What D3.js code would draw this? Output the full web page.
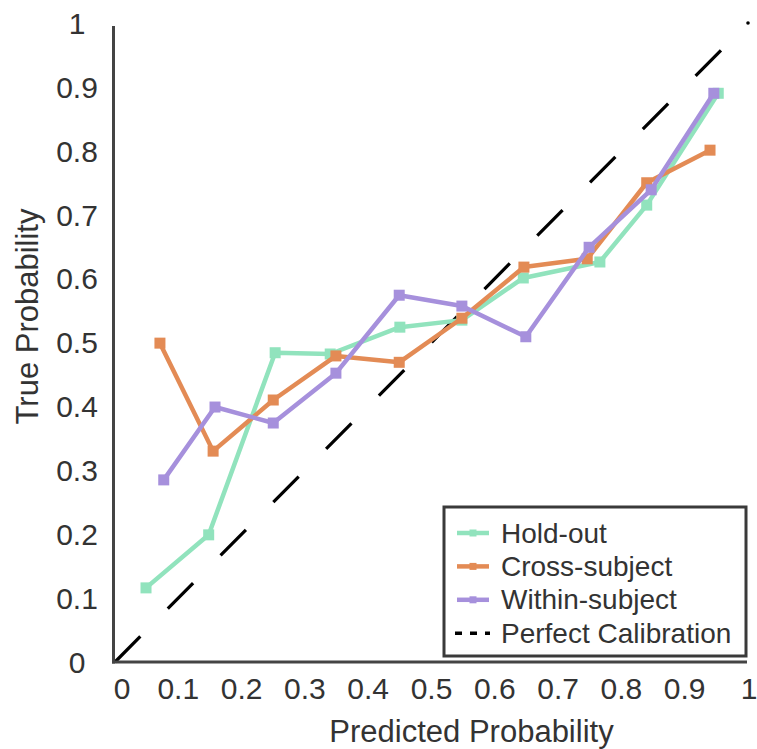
<!DOCTYPE html>
<html><head><meta charset="utf-8">
<script src="https://cdn.jsdelivr.net/npm/d3@7"></script>
<style>html,body{margin:0;padding:0;background:#fff;}</style>
</head><body>
<svg id="chart" width="757" height="749"></svg>
<script>
const tickValues = [0,0.1,0.2,0.3,0.4,0.5,0.6,0.7,0.8,0.9,1];
const tickLabels = ["0","0.1","0.2","0.3","0.4","0.5","0.6","0.7","0.8","0.9","1"];
const seriesNames = ["Hold-out","Cross-subject","Within-subject"];
const holdoutX = [0.049,0.148,0.253,0.340,0.450,0.548,0.645,0.766,0.840,0.953];
const holdoutY = [0.116,0.199,0.484,0.482,0.524,0.535,0.601,0.626,0.715,0.890];
const crossX   = [0.071,0.155,0.250,0.349,0.449,0.548,0.646,0.746,0.840,0.940];
const crossY   = [0.499,0.330,0.410,0.479,0.469,0.538,0.618,0.631,0.750,0.801];
const withinX  = [0.077,0.158,0.250,0.349,0.449,0.548,0.649,0.749,0.847,0.946];
const withinY  = [0.285,0.399,0.374,0.452,0.574,0.557,0.509,0.649,0.739,0.890];
const perfect  = [0,1];
const colors = ["#91e3bd","#e38b55","#a690dc"];

const svg = d3.select("#chart");
const x = d3.scaleLinear().domain([0,1]).range([115,748]);
const y = d3.scaleLinear().domain([0,1]).range([662,23]);
const font = "'Liberation Sans', Arial, sans-serif";
const textColor = "#333";
const spine = "#444";

// perfect calibration diagonal
svg.append("line")
  .attr("x1", x(perfect[0])).attr("y1", y(perfect[0]))
  .attr("x2", x(perfect[1])).attr("y2", y(perfect[1]))
  .attr("stroke","#000").attr("stroke-width",3.2)
  .attr("stroke-dasharray","36,39");
svg.append("circle").attr("cx", x(1)).attr("cy", y(1)).attr("r",1.8).attr("fill","#000");

const series = [
  {xs: holdoutX, ys: holdoutY},
  {xs: crossX, ys: crossY},
  {xs: withinX, ys: withinY}
];
const line = d3.line().x(d=>x(d[0])).y(d=>y(d[1]));
series.forEach((s,i)=>{
  const pts = s.xs.map((v,j)=>[v, s.ys[j]]);
  const g = svg.append("g");
  g.append("path").attr("d", line(pts)).attr("fill","none")
    .attr("stroke", colors[i]).attr("stroke-width",4.5).attr("stroke-linejoin","round");
  g.selectAll("rect").data(pts).enter().append("rect")
    .attr("x", d=>x(d[0])-5.5).attr("y", d=>y(d[1])-5.5)
    .attr("width",11).attr("height",11).attr("fill", colors[i]);
});

// spines
svg.append("line").attr("x1",113.5).attr("x2",113.5).attr("y1",26).attr("y2",663.5)
  .attr("stroke",spine).attr("stroke-width",3);
svg.append("line").attr("x1",112).attr("x2",747).attr("y1",662).attr("y2",662)
  .attr("stroke",spine).attr("stroke-width",3);

// x tick labels
svg.selectAll(".xt").data(tickValues).enter().append("text")
  .attr("x", (d,i)=> x(d) + (i===0 ? 7 : (i===10 ? 1 : 0)))
  .attr("y", 699)
  .attr("text-anchor","middle").attr("font-family",font).attr("font-size",30)
  .attr("fill",textColor).text((d,i)=>tickLabels[i]);

// y tick labels
svg.selectAll(".yt").data(tickValues).enter().append("text")
  .attr("x", 77).attr("y", d=>y(d)).attr("dy","0.36em")
  .attr("text-anchor","middle").attr("font-family",font).attr("font-size",30)
  .attr("fill",textColor).text((d,i)=>tickLabels[i]);

// axis titles
svg.append("text").attr("x",471.5).attr("y",742).attr("text-anchor","middle")
  .attr("font-family",font).attr("font-size",31).attr("fill",textColor).text("Predicted Probability");
svg.append("text").attr("transform","translate(38,316.5) rotate(-90)").attr("text-anchor","middle")
  .attr("font-family",font).attr("font-size",31).attr("fill",textColor).text("True Probability");

// legend
const lg = svg.append("g");
lg.append("rect").attr("x",444).attr("y",507).attr("width",302).attr("height",149)
  .attr("fill","#fff").attr("stroke","#3a3a3a").attr("stroke-width",3);
const legendItems = seriesNames.concat(["Perfect Calibration"]);
legendItems.forEach((name,i)=>{
  const cy = 533 + i*33.4;
  if (i < 3) {
    lg.append("line").attr("x1",457).attr("x2",489).attr("y1",cy).attr("y2",cy)
      .attr("stroke",colors[i]).attr("stroke-width",4.5);
    lg.append("rect").attr("x",469.5).attr("y",cy-3.5).attr("width",7).attr("height",7).attr("fill",colors[i]);
  } else {
    lg.append("line").attr("x1",455).attr("x2",490).attr("y1",cy).attr("y2",cy)
      .attr("stroke","#000").attr("stroke-width",3.5).attr("stroke-dasharray","7,8");
  }
  lg.append("text").attr("x",501).attr("y",cy+9.5).attr("font-family",font).attr("font-size",28)
    .attr("fill",textColor).text(name);
});
</script>
</body></html>
